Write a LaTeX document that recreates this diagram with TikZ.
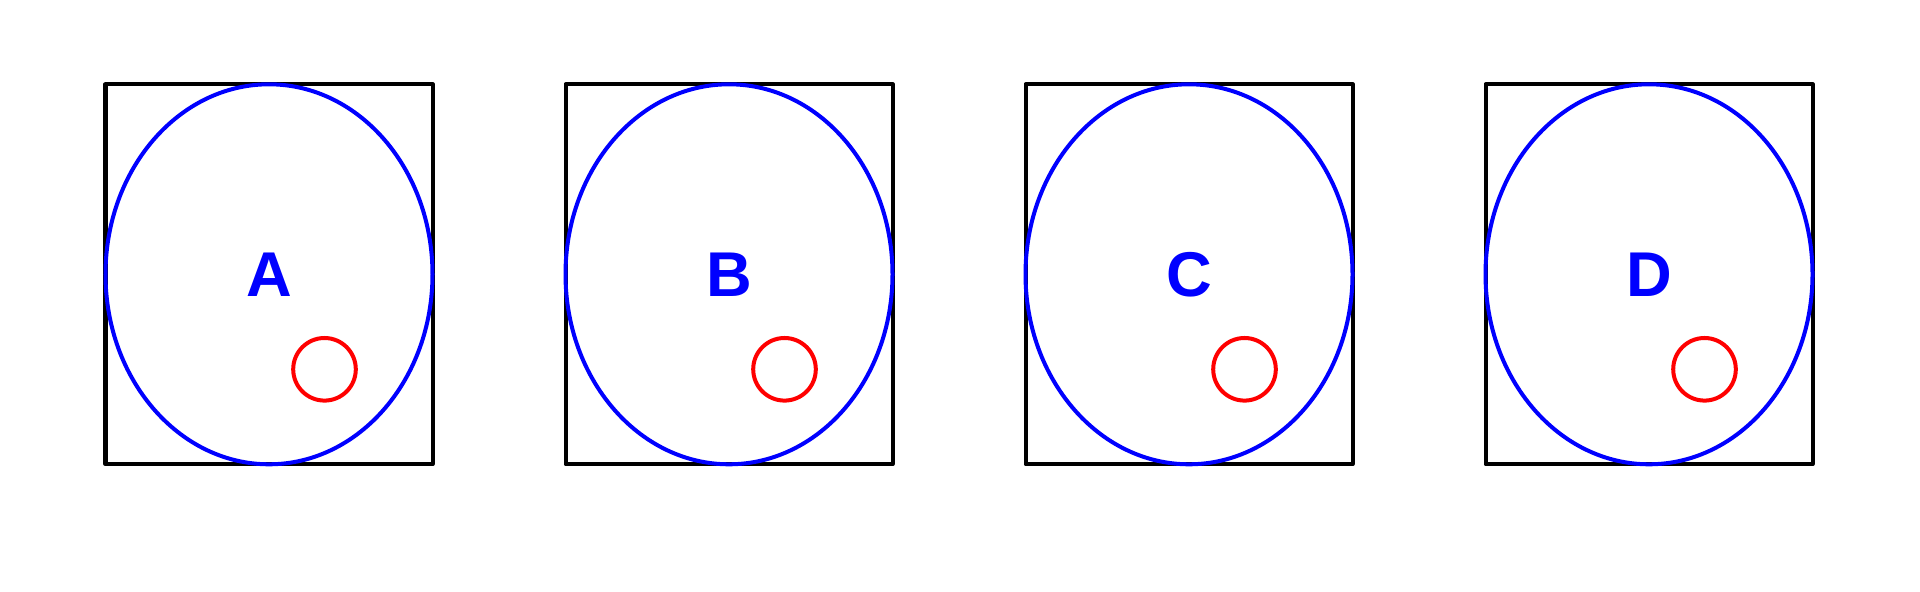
\documentclass[tikz,border=0pt]{standalone}
\usepackage{fontspec}
\setmainfont{Liberation Sans}
\usepackage{xcolor}
\usepackage{tikz}

\begin{document}
\begin{tikzpicture}
			\useasboundingbox (0,0) rectangle (19.2,5.92);
			\foreach \i/\t in {0/A,1/B,2/C,3/D} {
				\begin{scope}[xshift={\i*4.6cm},line width=1.14pt,line join=round]
					\coordinate (c\t) at (2.69,3.177);
					\coordinate (s\t) at (3.245,2.227);
					\draw (1.055,1.277) rectangle (4.325,5.077);
					\draw[blue] (c\t) ellipse (1.635 and 1.9);
					\draw[red] (s\t) circle (0.313);
					\node[text=blue,font=\fontsize{18}{20}\selectfont\bfseries,inner sep=0pt]
					(lbl\t) at (c\t) {\t};
				\end{scope}
			}
		\end{tikzpicture}
\end{document}
